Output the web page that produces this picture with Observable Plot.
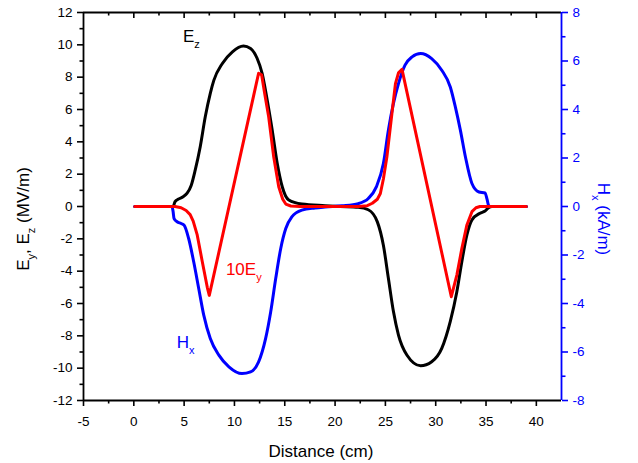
<!DOCTYPE html>
<html><head><meta charset="utf-8">
<script src="https://cdn.jsdelivr.net/npm/d3@7"></script>
<script src="https://cdn.jsdelivr.net/npm/@observablehq/plot@0.6"></script>
<style>
html,body{margin:0;padding:0;background:#fff;}
#chart{position:absolute;left:0;top:0;}
</style></head><body><div id="chart"></div>
<script>
// ---- data ----
const ezX = [0.1, 3.9, 4.1, 4.4, 4.9, 5.3, 5.7, 6.1, 6.6, 7.1, 7.6, 7.95, 8.8, 9.8, 10.9, 11.6, 12.25, 12.75, 13.25, 13.75, 14.25, 14.75, 15.4, 16.7, 19.0, 20.5, 22.3, 23.3, 24.2, 24.8, 25.3, 25.8, 26.3, 27.15, 28.5, 29.6, 30.6, 31.45, 32.1, 32.6, 33.1, 33.6, 34.4, 34.9, 35.25, 35.6, 39.0];
const ezY = [0, 0, 0.3, 0.45, 0.6, 0.82, 1.3, 2.25, 3.7, 5.55, 7.0, 7.8, 8.85, 9.57, 9.93, 9.78, 9.17, 8.24, 6.6, 4.73, 2.67, 1.22, 0.4, 0.15, 0.05, 0, -0.05, -0.2, -0.95, -2.4, -4.45, -6.5, -7.95, -9.2, -9.85, -9.6, -8.77, -7.1, -5.27, -3.4, -1.76, -0.83, -0.42, -0.28, -0.07, 0, 0];

const eyX = [0.1, 4.1, 4.7, 5.2, 5.6, 5.9, 6.3, 6.8, 7.3, 7.5, 12.4, 12.7, 13.0, 13.4, 13.9, 14.4, 14.8, 15.1, 15.6, 16.5, 22.3, 23.2, 23.7, 24.2, 24.5, 24.8, 25.15, 25.65, 26.0, 26.3, 26.65, 31.55, 32.1, 32.6, 33.1, 33.6, 34.0, 34.4, 39.0];
const eyY = [0, 0, -0.08, -0.25, -0.5, -0.9, -1.76, -3.4, -5.0, -5.5, 8.24, 8.15, 7.0, 5.55, 3.08, 1.22, 0.45, 0.15, 0.03, 0, 0, 0.05, 0.2, 0.45, 0.8, 1.7, 3.08, 5.76, 7.6, 8.27, 8.48, -5.58, -4.24, -2.59, -1.14, -0.32, -0.08, 0, 0];

const hxX = [0.1, 3.8, 3.9, 4.0, 4.3, 4.7, 5.0, 5.45, 5.95, 6.45, 6.95, 7.6, 8.45, 9.45, 10.75, 11.6, 12.4, 13.1, 13.6, 14.1, 14.6, 15.1, 15.7, 16.7, 18.0, 19.0, 20.7, 22.3, 23.3, 24.1, 24.8, 25.3, 25.8, 26.3, 26.95, 27.65, 28.5, 29.6, 30.6, 31.45, 31.95, 32.45, 32.95, 33.6, 34.3, 34.9, 35.1, 35.25, 35.4, 39.0];
const hxY = [0, 0, -0.2, -0.5, -0.63, -0.7, -0.77, -1.32, -2.28, -3.38, -4.48, -5.44, -6.13, -6.61, -6.89, -6.82, -6.41, -5.44, -4.35, -2.97, -1.73, -0.91, -0.43, -0.15, -0.06, -0.02, 0.03, 0.12, 0.33, 0.81, 1.77, 3.15, 4.25, 5.07, 5.83, 6.17, 6.31, 6.1, 5.62, 4.93, 4.11, 3.15, 2.05, 0.95, 0.6, 0.56, 0.3, 0.05, 0, 0];

const xDomain = [-5, 42.5];
const yDomain = [-12, 12];      // left axis, MV/m
const hDomain = [-8, 8];        // right axis, kA/m
const xTicks = [-5, 0, 5, 10, 15, 20, 25, 30, 35, 40];
const xMinor = [-2.5, 2.5, 7.5, 12.5, 17.5, 22.5, 27.5, 32.5, 37.5];
const yTicks = [-12, -10, -8, -6, -4, -2, 0, 2, 4, 6, 8, 10, 12];
const yMinor = [-11, -9, -7, -5, -3, -1, 1, 3, 5, 7, 9, 11];
const hTicks = [-8, -6, -4, -2, 0, 2, 4, 6, 8];
const hMinor = [-7, -5, -3, -1, 1, 3, 5, 7];

const labels = [
  {main: "E", sub: "z", x: 4.93, y: 10.14, color: "#000000"},
  {main: "10E", sub: "y", x: 9.2, y: -4.24, color: "#ff0000"},
  {main: "H", sub: "x", x: 4.31, y: -8.77, color: "#0000ff"}
];

// ---- build ----
const k = yDomain[1] / hDomain[1];
const ez = ezX.map((x, i) => ({x, y: ezY[i]}));
const ey = eyX.map((x, i) => ({x, y: eyY[i]}));
const hx = hxX.map((x, i) => ({x, h: hxY[i]}));

const W = 638, H = 463, mL = 83, mR = 77, mT = 12, mB = 63;
const innerH = H - mT - mB;
const font = "Arial, 'Liberation Sans', Helvetica, sans-serif";
const fmt = d => String(d);
const blank = () => "";

const chart = Plot.plot({
  width: W, height: H,
  marginLeft: mL, marginRight: mR, marginTop: mT, marginBottom: mB,
  style: {fontFamily: font, fontSize: "13.5px", background: "#fff", color: "#000", overflow: "visible"},
  x: {domain: xDomain},
  y: {domain: yDomain},
  marks: [
    Plot.line(ez, {x: "x", y: "y", stroke: "#000000", strokeWidth: 3, curve: "monotone-x", strokeLinecap: "round"}),
    Plot.line(hx, {x: "x", y: d => d.h * k, stroke: "#0000ff", strokeWidth: 3, curve: "monotone-x", strokeLinecap: "round"}),
    Plot.line(ey, {x: "x", y: "y", stroke: "#ff0000", strokeWidth: 3, curve: "linear", strokeLinecap: "round", strokeLinejoin: "round"}),
    // frame
    Plot.ruleY(yDomain, {stroke: "#000", strokeWidth: 1.8}),
    Plot.ruleX([xDomain[0]], {stroke: "#000", strokeWidth: 1.8}),
    Plot.ruleX([xDomain[1]], {stroke: "#0000ff", strokeWidth: 1.8}),
    // bottom axis
    Plot.axisX({ticks: xTicks, tickSize: 6, tickPadding: 10, tickFormat: fmt, label: null, strokeWidth: 1.6, fontSize: 13.5}),
    Plot.axisX({ticks: xMinor, tickSize: 3.5, tickFormat: blank, label: null, strokeWidth: 1.6}),
    // top inward ticks
    Plot.tickX(xTicks.slice(1), {x: d => d, insetBottom: innerH - 6, stroke: "#000", strokeWidth: 1.6}),
    Plot.tickX(xMinor, {x: d => d, insetBottom: innerH - 3.5, stroke: "#000", strokeWidth: 1.6}),
    // left axis
    Plot.axisY({ticks: yTicks, tickSize: 6, tickPadding: 5, tickFormat: fmt, label: null, strokeWidth: 1.6, fontSize: 13.5}),
    Plot.axisY({ticks: yMinor, tickSize: 3.5, tickFormat: blank, label: null, strokeWidth: 1.6}),
    // right axis (Hx, kA/m)
    Plot.axisY({anchor: "right", ticks: hTicks.map(h => h * k), tickSize: 6, tickPadding: 5,
      tickFormat: v => fmt(Math.round(v / k)), label: null, stroke: "#0000ff", fill: "#0000ff", strokeWidth: 1.6, fontSize: 13.5}),
    Plot.axisY({anchor: "right", ticks: hMinor.map(h => h * k), tickSize: 3.5, tickFormat: blank, label: null, stroke: "#0000ff", strokeWidth: 1.6})
  ]
});

document.getElementById("chart").appendChild(chart);

const svg = d3.select(chart);
const sx = chart.scale("x"), sy = chart.scale("y");

function richText(sel, parts, size, subSize) {
  parts.forEach(p => {
    if (p.sub) {
      sel.append("tspan").attr("font-size", subSize).attr("dy", 6).text(p.t);
    } else {
      sel.append("tspan").attr("font-size", size).attr("dy", p.after ? -6 : 0).text(p.t);
    }
  });
}

labels.forEach(l => {
  const t = svg.append("text")
    .attr("x", sx.apply(l.x)).attr("y", sy.apply(l.y))
    .attr("text-anchor", "start")
    .attr("fill", l.color).attr("font-family", font);
  richText(t, [{t: l.main}, {t: l.sub, sub: true}], 17, 11);
});

// axis titles
svg.append("text")
  .attr("x", mL + (W - mL - mR) / 2 - 1).attr("y", 457)
  .attr("text-anchor", "middle").attr("font-family", font).attr("font-size", 17).attr("fill", "#000")
  .text("Distance (cm)");

const lt = svg.append("text")
  .attr("transform", `translate(29,${mT + innerH / 2 + 13}) rotate(-90)`)
  .attr("text-anchor", "middle").attr("font-family", font).attr("fill", "#000");
richText(lt, [{t: "E"}, {t: "y", sub: true}, {t: ", E", after: true}, {t: "z", sub: true}, {t: " (MV/m)", after: true}], 17, 11);

const rt = svg.append("text")
  .attr("transform", `translate(598,${mT + innerH / 2 + 13}) rotate(90)`)
  .attr("text-anchor", "middle").attr("font-family", font).attr("fill", "#0000ff");
richText(rt, [{t: "H"}, {t: "x", sub: true}, {t: " (kA/m)", after: true}], 17, 11);
</script>
</body></html>
